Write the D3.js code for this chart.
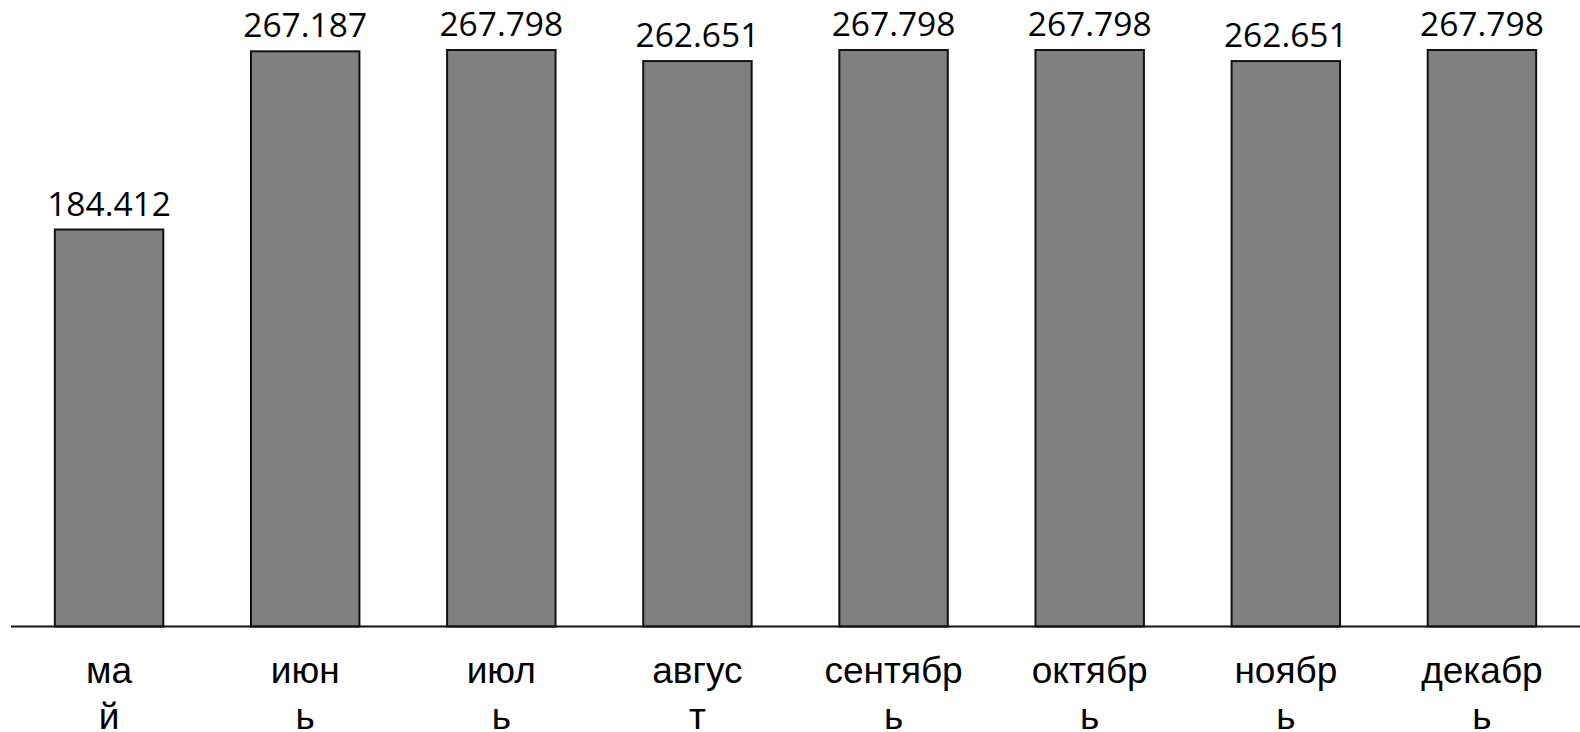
<!DOCTYPE html>
<html><head><meta charset="utf-8">
<script src="https://cdn.jsdelivr.net/npm/d3@7"></script>
<style>html,body{margin:0;padding:0;background:#fff;overflow:hidden}</style>
</head><body>
<svg id="chart" width="1580" height="732"></svg>
<script>
const categories = ["май","июнь","июль","август","сентябрь","октябрь","ноябрь","декабрь"];
const values = [184.412, 267.187, 267.798, 262.651, 267.798, 267.798, 262.651, 267.798];
const valueLabels = ["184.412","267.187","267.798","262.651","267.798","267.798","262.651","267.798"];
const tickLines = [["ма","й"],["июн","ь"],["июл","ь"],["авгус","т"],["сентябр","ь"],["октябр","ь"],["ноябр","ь"],["декабр","ь"]];

const svg = d3.select("#chart");
const x = d3.scaleBand().domain(categories).range([11, 1580]).paddingInner(0.447).paddingOuter(0.2235);
const y = d3.scaleLinear().domain([0, 267.798]).range([626.5, 50]);

svg.selectAll("rect.bar").data(values).enter().append("rect")
  .attr("class","bar")
  .attr("x",(d,i)=>x(categories[i]))
  .attr("y",d=>y(d))
  .attr("width",x.bandwidth())
  .attr("height",d=>y(0)-y(d))
  .attr("fill","#808080").attr("stroke","#111").attr("stroke-width",2);

svg.selectAll("text.val").data(values).enter().append("text")
  .attr("class","val")
  .attr("x",(d,i)=>x(categories[i])+x.bandwidth()/2)
  .attr("y",d=>y(d)-14)
  .attr("text-anchor","middle")
  .attr("font-family","'Open Sans', sans-serif")
  .attr("font-size",33.5)
  .attr("fill","#000")
  .text((d,i)=>valueLabels[i]);

const axis = d3.axisBottom(x).tickSize(0).tickFormat("");
const ag = svg.append("g").attr("transform",`translate(0,${y(0)})`).call(axis);
ag.select(".domain").attr("d","M11,0H1580").attr("stroke","#111").attr("stroke-width",1.8);

const tl = svg.append("g");
categories.forEach((c,i)=>{
  const t = tl.append("text")
    .attr("x", x(c)+x.bandwidth()/2)
    .attr("y", 683)
    .attr("text-anchor","middle")
    .attr("font-family","'Liberation Sans', Arial, sans-serif")
    .attr("font-size",37)
    .attr("fill","#000");
  tickLines[i].forEach((ln,j)=>{
    t.append("tspan").attr("x", x(c)+x.bandwidth()/2).attr("dy", j===0?0:46).text(ln);
  });
});
</script>
</body></html>
